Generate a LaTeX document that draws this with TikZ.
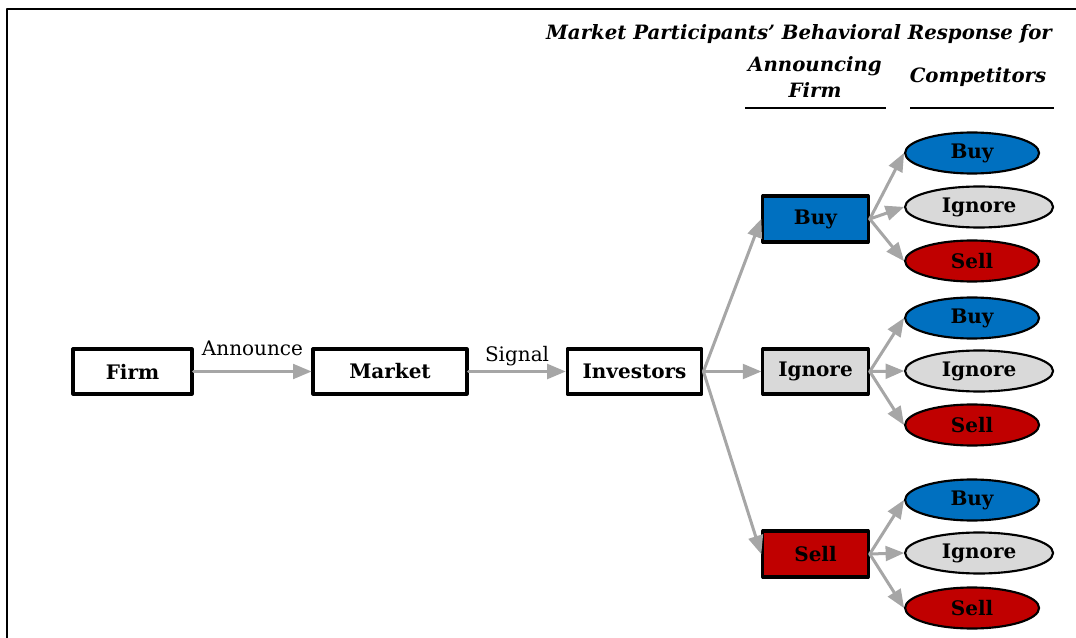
\documentclass[tikz,border=0pt]{standalone}
\usepackage{fontspec}
\setmainfont{DejaVu Serif}
\usepackage{tikz}
\usetikzlibrary{arrows}
\usetikzlibrary{shapes.geometric}
\definecolor{buyblue}{HTML}{0070C0}
\definecolor{ignoregray}{HTML}{D9D9D9}
\definecolor{sellred}{HTML}{C00000}
\definecolor{arrowgray}{HTML}{A6A6A6}

\begin{document}
\begin{tikzpicture}[line cap=round,line join=round,>=triangle 45,x=0.75pt,y=-0.75pt,
    box/.style={draw, line width=2.4pt, minimum height=33.75pt, inner sep=0pt, font=\fontsize{15}{18}\selectfont\bfseries},
    resp/.style={ellipse, draw, line width=1.6pt, minimum height=30.75pt, minimum width=100.5pt, inner sep=0pt, anchor=west, font=\fontsize{15}{18}\selectfont\bfseries},
    flow/.style={->, draw=arrowgray, line width=2.25pt},
    head/.style={font=\fontsize{14.8}{19.5}\selectfont\bfseries\itshape, align=center}]
                        \useasboundingbox (0,0) rectangle (1076,638);
                        \draw [line width=1.5pt, line cap=butt] (7,638) -- (7,9) -- (1076,9);

                        \node[head] (title) at (799,34) {Market Participants’ Behavioral Response for};
                        \node[head] (annfirm) at (815,77) {Announcing\\Firm};
                        \node[head] (comp) at (978,77) {Competitors};
                        \draw [line width=2pt, line cap=butt] (745,108) -- (886,108);
                        \draw [line width=2pt, line cap=butt] (910,108) -- (1054,108);

                        \node[box, minimum width=89.25pt] (firm) at (132.5,371.5) {Firm};
                        \node[box, minimum width=115.5pt] (market) at (390,371.5) {Market};
                        \node[box, minimum width=101pt] (investors) at (634.5,371.5) {Investors};

                        \draw [flow] (firm) -- node[above=7pt, font=\fontsize{15}{18}\selectfont] {Announce} (market);
                        \draw [flow] (market) -- node[above, font=\fontsize{15}{18}\selectfont] {Signal} (investors);

                        \node[box, fill=buyblue, minimum width=79pt, minimum height=34.5pt] (buy) at (815.5,219) {Buy};
                        \node[box, fill=ignoregray, minimum width=79pt] (ignore) at (815.5,371.5) {Ignore};
                        \node[box, fill=sellred, minimum width=79pt, minimum height=34.5pt] (sell) at (815.5,554) {Sell};

                        \draw [flow] (investors.east) -- (buy.west);
                        \draw [flow] (investors.east) -- (ignore.west);
                        \draw [flow] (investors.east) -- (sell.west);

                        \node[resp, fill=buyblue] (buybuy) at (904,153) {Buy};
                        \node[resp, fill=ignoregray, minimum width=111pt] (buyignore) at (904,207) {Ignore};
                        \node[resp, fill=sellred] (buysell) at (904,261) {Sell};
                        \draw [flow] (buy.east) -- (buybuy.west);
                        \draw [flow] (buy.east) -- (buyignore.west);
                        \draw [flow] (buy.east) -- (buysell.west);

                        \node[resp, fill=buyblue] (ignorebuy) at (904,318) {Buy};
                        \node[resp, fill=ignoregray, minimum width=111pt] (ignoreignore) at (904,371) {Ignore};
                        \node[resp, fill=sellred] (ignoresell) at (904,425) {Sell};
                        \draw [flow] (ignore.east) -- (ignorebuy.west);
                        \draw [flow] (ignore.east) -- (ignoreignore.west);
                        \draw [flow] (ignore.east) -- (ignoresell.west);

                        \node[resp, fill=buyblue] (sellbuy) at (904,500) {Buy};
                        \node[resp, fill=ignoregray, minimum width=111pt] (sellignore) at (904,553) {Ignore};
                        \node[resp, fill=sellred] (sellsell) at (904,608) {Sell};
                        \draw [flow] (sell.east) -- (sellbuy.west);
                        \draw [flow] (sell.east) -- (sellignore.west);
                        \draw [flow] (sell.east) -- (sellsell.west);
                    \end{tikzpicture}
\end{document}
